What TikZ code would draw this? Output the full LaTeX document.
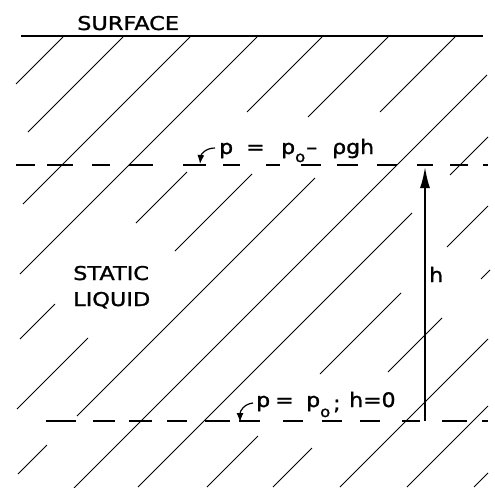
\documentclass[tikz,border=0pt]{standalone}
\usepackage{fontspec}
\setmainfont[FakeBold=1.2]{DejaVu Sans}
\usetikzlibrary{arrows.meta}
\newcommand{\subo}[1]{\raisebox{-#1}{\fontsize{15}{16}\selectfont o}}
\begin{document}
\begin{tikzpicture}[x=1pt,y=-1pt,
  hatch/.style={line width=1pt},
  surf/.style={line width=1.8pt},
  dashseg/.style={line width=1.8pt},
  lbl/.style={font=\fontsize{20}{22}\selectfont, inner sep=0pt, anchor=base west, xscale=1.1},
  caps/.style={font=\fontsize{19}{22}\selectfont, inner sep=0pt, anchor=base west, xscale=1.18},
  hvec/.style={line width=2.6pt, -{Latex[length=22pt,width=10pt]}},
  pointer/.style={line width=1.2pt, -{Latex[length=9pt,width=7pt]}}
]
\useasboundingbox (0,0) rectangle (495,487);
% surface
\coordinate (sL) at (21,36);
\coordinate (sR) at (483,36);
\draw[surf] (sL) -- (sR);
\node[caps] (surface) at (77,30) {SURFACE};
% hatch lines
\foreach \xa/\ya/\xb/\yb in {
  63/37/16/84, 123/37/28/132, 190/37/23/204, 257/37/20/274,
  322/37/247/112, 187/172/136/223, 55/304/20/339,
  388/37/308/117, 252/174/175/251, 88/338/17/409,
  455/37/380/112, 315/178/77/416, 47/445/18/474,
  487/75/74/488,
  488/137/450/175, 412/213/138/487,
  488/206/447/247, 401/293/320/374, 258/436/207/487,
  490/270/481/279, 442/318/388/372, 312/448/273/487,
  488/339/340/487, 488/406/407/487, 488/473/474/487}
  \draw[hatch] (\xa,\ya) -- (\xb,\yb);
% dashed levels
\foreach \a/\b in {16/35, 47/73, 92/110, 129/153, 183/206, 223/240, 266/280,
  301/321, 337/358, 377/397, 417/433, 450/468, 483/488}
  \draw[dashseg] (\a,165) -- (\b,165);
\foreach \a/\b in {46/76, 93/115, 129/152, 167/187, 205/230, 239/260, 283/303,
  322/342, 360/380, 402/420, 442/467, 482/488}
  \draw[dashseg] (\a,421) -- (\b,421);
% upper label: p = p_o - rho g h
\node[lbl] (tp1) at (219,154) {p};
\node[lbl] (teq) at (246,154) {=};
\node[lbl] (tp2) at (281,154) {p\subo{8pt}};
\node[lbl] (tmin) at (306,154) {–};
\node[lbl] (trgh) at (332,154) {ρgh};
% lower label: p = p_o ; h = 0
\node[lbl] (bp1) at (256,407) {p};
\node[lbl] (beq) at (275,407) {=};
\node[lbl] (bp2) at (306,407) {p\subo{10pt}};
\node[lbl] (bsemi) at (333,410) {;};
\node[lbl] (bh) at (349,407) {h=0};
% liquid label
\node[caps] (static) at (73,280) {STATIC};
\node[caps] (liquid) at (73,306) {LIQUID};
% pointers
\coordinate (p1s) at (215,148);
\coordinate (p1e) at (200,164);
\draw[pointer] (p1s) .. controls (206,148) and (201,154) .. (p1e);
\coordinate (p2s) at (253,403);
\coordinate (p2e) at (240,422);
\draw[pointer] (p2s) .. controls (244,404) and (240,411) .. (p2e);
% h arrow
\coordinate (hb) at (425,421);
\coordinate (ht) at (425,166);
\draw[hvec] (hb) -- (ht);
\node[lbl] (hlbl) at (429,282) {h};
\end{tikzpicture}
\end{document}
